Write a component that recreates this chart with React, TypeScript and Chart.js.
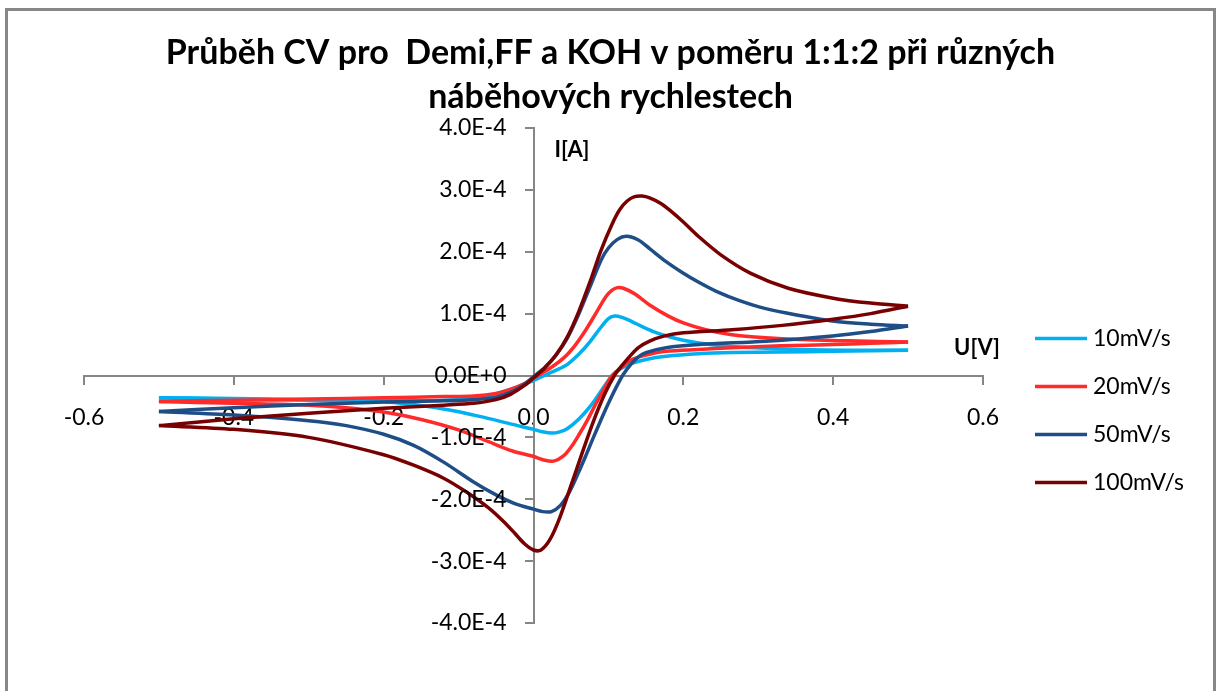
import React, { useEffect, useRef } from "react";
import { Chart, registerables } from "chart.js";

Chart.register(...registerables);

const titleLines = ["Průběh CV pro  Demi,FF a KOH v poměru 1:1:2 při různých", "náběhových rychlestech"];
const xAxisTitle = "U[V]";
const yAxisTitle = "I[A]";
const seriesLabels = ["10mV/s", "20mV/s", "50mV/s", "100mV/s"];
const seriesColors = ["#00B0F0", "#FF2B2B", "#1F4E86", "#780000"];

// 10 mV/s (U in V, I in 1e-4 A) – forward sweep then reverse sweep
const u10 = [-0.5, -0.4, -0.3, -0.2, -0.12, -0.07, -0.03, 0.0, 0.02, 0.044, 0.061, 0.075, 0.09, 0.1, 0.108, 0.118, 0.13, 0.145, 0.16, 0.18, 0.2, 0.23, 0.265, 0.31, 0.355, 0.42, 0.5,
  0.45, 0.4, 0.33, 0.265, 0.22, 0.177, 0.15, 0.132, 0.118, 0.105, 0.092, 0.077, 0.061, 0.045, 0.035, 0.025, 0.012, 0.0, -0.028, -0.072, -0.116, -0.161, -0.205, -0.3, -0.4, -0.5];
const i10 = [-0.36, -0.38, -0.4, -0.41, -0.4, -0.35, -0.22, -0.08, 0.03, 0.17, 0.35, 0.54, 0.78, 0.92, 0.96, 0.94, 0.88, 0.79, 0.71, 0.63, 0.57, 0.51, 0.47, 0.44, 0.42, 0.41, 0.41,
  0.4, 0.39, 0.38, 0.37, 0.35, 0.31, 0.26, 0.2, 0.12, 0.0, -0.22, -0.48, -0.7, -0.86, -0.91, -0.93, -0.91, -0.87, -0.79, -0.66, -0.55, -0.47, -0.42, -0.39, -0.37, -0.36];

// 20 mV/s
const u20 = [-0.5, -0.4, -0.3, -0.2, -0.12, -0.08, -0.05, -0.03, -0.012, 0.0, 0.02, 0.04, 0.055, 0.07, 0.085, 0.097, 0.105, 0.112, 0.12, 0.135, 0.155, 0.18, 0.2, 0.23, 0.265, 0.31, 0.355, 0.42, 0.5,
  0.45, 0.4, 0.33, 0.265, 0.22, 0.177, 0.15, 0.132, 0.118, 0.105, 0.095, 0.084, 0.072, 0.061, 0.05, 0.04, 0.028, 0.015, 0.0, -0.028, -0.06, -0.1, -0.15, -0.2, -0.25, -0.3, -0.4, -0.5];
const i20 = [-0.42, -0.4, -0.38, -0.36, -0.34, -0.33, -0.29, -0.22, -0.13, -0.04, 0.1, 0.28, 0.48, 0.74, 1.04, 1.28, 1.38, 1.42, 1.41, 1.32, 1.14, 0.96, 0.85, 0.74, 0.66, 0.61, 0.58, 0.56, 0.54,
  0.52, 0.5, 0.48, 0.45, 0.42, 0.39, 0.33, 0.26, 0.14, 0.0, -0.2, -0.44, -0.72, -0.95, -1.16, -1.3, -1.38, -1.37, -1.31, -1.22, -1.07, -0.88, -0.71, -0.59, -0.52, -0.48, -0.45, -0.42];

// 50 mV/s
const u50 = [-0.5, -0.4, -0.3, -0.2, -0.12, -0.08, -0.05, -0.03, -0.012, 0.0, 0.015, 0.03, 0.045, 0.06, 0.075, 0.09, 0.1, 0.112, 0.124, 0.14, 0.155, 0.177, 0.199, 0.22, 0.244, 0.275, 0.31, 0.355, 0.399, 0.45, 0.5,
  0.45, 0.399, 0.31, 0.221, 0.177, 0.15, 0.14, 0.13, 0.12, 0.11, 0.1, 0.09, 0.08, 0.07, 0.06, 0.048, 0.036, 0.024, 0.012, 0.0, -0.025, -0.05, -0.08, -0.12, -0.16, -0.2, -0.25, -0.3, -0.4, -0.5];
const i50 = [-0.58, -0.52, -0.47, -0.43, -0.41, -0.39, -0.35, -0.27, -0.14, -0.02, 0.13, 0.33, 0.6, 0.98, 1.42, 1.86, 2.06, 2.2, 2.25, 2.19, 2.05, 1.84, 1.66, 1.51, 1.36, 1.21, 1.08, 0.97, 0.88, 0.83, 0.8,
  0.71, 0.64, 0.555, 0.5, 0.45, 0.37, 0.3, 0.18, 0.02, -0.2, -0.45, -0.72, -1.0, -1.29, -1.57, -1.88, -2.1, -2.2, -2.2, -2.16, -2.07, -1.93, -1.72, -1.4, -1.13, -0.95, -0.81, -0.73, -0.64, -0.58];

// 100 mV/s
const u100 = [-0.5, -0.4, -0.3, -0.2, -0.12, -0.08, -0.05, -0.03, -0.012, 0.0, 0.015, 0.03, 0.045, 0.06, 0.075, 0.09, 0.105, 0.115, 0.125, 0.135, 0.145, 0.155, 0.17, 0.185, 0.2, 0.22, 0.25, 0.29, 0.34, 0.4, 0.45, 0.5,
  0.45, 0.4, 0.332, 0.265, 0.2, 0.175, 0.155, 0.14, 0.13, 0.12, 0.108, 0.095, 0.08, 0.065, 0.05, 0.035, 0.022, 0.01, 0.0, -0.012, -0.025, -0.04, -0.06, -0.09, -0.12, -0.16, -0.2, -0.3, -0.4, -0.5];
const i100 = [-0.81, -0.7, -0.61, -0.53, -0.48, -0.45, -0.39, -0.3, -0.16, -0.04, 0.12, 0.33, 0.62, 1.02, 1.5, 2.02, 2.45, 2.68, 2.82, 2.89, 2.9, 2.87, 2.78, 2.64, 2.48, 2.25, 1.95, 1.65, 1.41, 1.25, 1.17, 1.12,
  1.0, 0.91, 0.81, 0.74, 0.69, 0.64, 0.555, 0.45, 0.33, 0.19, 0.0, -0.3, -0.74, -1.25, -1.78, -2.3, -2.65, -2.82, -2.82, -2.72, -2.55, -2.36, -2.14, -1.88, -1.66, -1.45, -1.28, -1.0, -0.87, -0.81];

const currentScale = 1e-4;
const xTickMin = -0.6, xTickMax = 0.6, xTickStep = 0.2;
const yTickMin = -4e-4, yTickMax = 4e-4, yTickStep = 1e-4;

const seriesU = [u10, u20, u50, u100];
const seriesI = [i10, i20, i50, i100];

const fmtX = (v: number) => {
  const r = Math.round(v * 10) / 10;
  return (r === 0 ? 0 : r).toFixed(1);
};
const fmtY = (v: number) => {
  const r = Math.round(v / 1e-5) * 1e-5;
  return (Math.abs(r) < 1e-12 ? 0 : r).toExponential(1).replace("e", "E");
};

const FONT = "Lato, 'Open Sans', sans-serif";

export default function App() {
  const ref = useRef<HTMLCanvasElement>(null);
  useEffect(() => {
    const canvas = ref.current!;
    const datasets: any[] = [];
    seriesLabels.forEach((label, k) => {
      const u = seriesU[k];
      const iv = seriesI[k];
      let turn = 0;
      u.forEach((val, j) => { if (val > u[turn]) turn = j; });
      const pts = u.map((val, j) => ({ x: val, y: iv[j] * currentScale }));
      const fwd = pts.slice(0, turn + 1);
      const rev = pts.slice(turn);
      [fwd, rev].forEach((d) => {
        datasets.push({
          label,
          data: d,
          showLine: true,
          borderColor: seriesColors[k],
          backgroundColor: seriesColors[k],
          borderWidth: 3.5,
          pointRadius: 0,
          tension: 0.3,
          order: seriesLabels.length - k,
          clip: false,
        });
      });
    });

    const overlay = {
      id: "overlay",
      afterDraw(chart: any) {
        const ctx = chart.ctx;
        const xs = chart.scales.x;
        const ys = chart.scales.y;
        const area = chart.chartArea;
        const x0 = xs.getPixelForValue(0);
        const y0 = ys.getPixelForValue(0);
        ctx.save();
        ctx.fillStyle = "#000";
        // title
        ctx.font = `bold 34px ${FONT}`;
        ctx.textAlign = "center";
        ctx.textBaseline = "middle";
        titleLines.forEach((line, j) => {
          ctx.fillText(line, chart.width / 2, 42 + j * 44);
        });
        // y tick labels
        ctx.font = `23px ${FONT}`;
        ctx.textAlign = "right";
        ys.ticks.forEach((t: any, j: number) => {
          ctx.fillText(fmtY(t.value), x0 - 27, ys.getPixelForTick(j));
        });
        // axis titles
        ctx.font = `bold 22px ${FONT}`;
        ctx.textAlign = "left";
        ctx.fillText(yAxisTitle, x0 + 21, area.top + 22);
        ctx.textAlign = "right";
        ctx.fillText(xAxisTitle, area.right + 17, y0 - 28);
        // legend
        ctx.font = `23px ${FONT}`;
        ctx.textAlign = "left";
        const lx = area.right + 52;
        let ly = y0 - 37;
        seriesLabels.forEach((lab, k) => {
          ctx.strokeStyle = seriesColors[k];
          ctx.lineWidth = 3.5;
          ctx.beginPath();
          ctx.moveTo(lx, ly);
          ctx.lineTo(lx + 52, ly);
          ctx.stroke();
          ctx.fillText(lab, lx + 58, ly);
          ly += 48;
        });
        ctx.restore();
      },
    };

    Chart.defaults.color = "#000";
    const chart = new Chart(canvas, {
      type: "scatter",
      data: { datasets },
      plugins: [overlay],
      options: {
        animation: false,
        responsive: false,
        events: [],
        layout: { padding: { left: 76, right: 230, top: 117, bottom: 78 } },
        plugins: {
          legend: { display: false },
          tooltip: { enabled: false },
          title: { display: false },
        },
        scales: {
          x: {
            type: "linear",
            position: { y: 0 } as any,
            min: xTickMin,
            max: xTickMax,
            afterFit: (s: any) => { s.height = 0; },
            ticks: {
              stepSize: xTickStep,
              color: "#000",
              font: { family: FONT, size: 23 },
              padding: 20,
              maxRotation: 0,
              callback: (v: any) => fmtX(Number(v)),
            },
            grid: { drawOnChartArea: false, drawTicks: true, tickLength: 8, color: "#868686", lineWidth: 2 },
            border: { display: true, color: "#868686", width: 2 },
          },
          y: {
            type: "linear",
            position: { x: 0 } as any,
            min: yTickMin,
            max: yTickMax,
            afterFit: (s: any) => { s.width = 0; },
            ticks: {
              stepSize: yTickStep,
              display: false,
              callback: (v: any) => fmtY(Number(v)),
            },
            grid: { drawOnChartArea: false, drawTicks: true, tickLength: 8, color: "#868686", lineWidth: 2 },
            border: { display: true, color: "#868686", width: 2 },
          },
        },
      },
    });
    const fonts = (document as any).fonts;
    if (fonts && fonts.load) {
      Promise.all([fonts.load(`23px Lato`), fonts.load(`bold 34px Lato`)]).then(() => chart.update()).catch(() => {});
    }
    return () => chart.destroy();
  }, []);

  return (
    <div
      style={{
        position: "absolute",
        left: 5,
        top: 8,
        width: 1205,
        height: 700,
        borderTop: "3px solid #878787",
        borderLeft: "3px solid #878787",
        borderRight: "3px solid #878787",
        background: "#fff",
        overflow: "hidden",
      }}
    >
      <canvas ref={ref} width={1205} height={690} style={{ display: "block", width: 1205, height: 690 }} />
    </div>
  );
}
